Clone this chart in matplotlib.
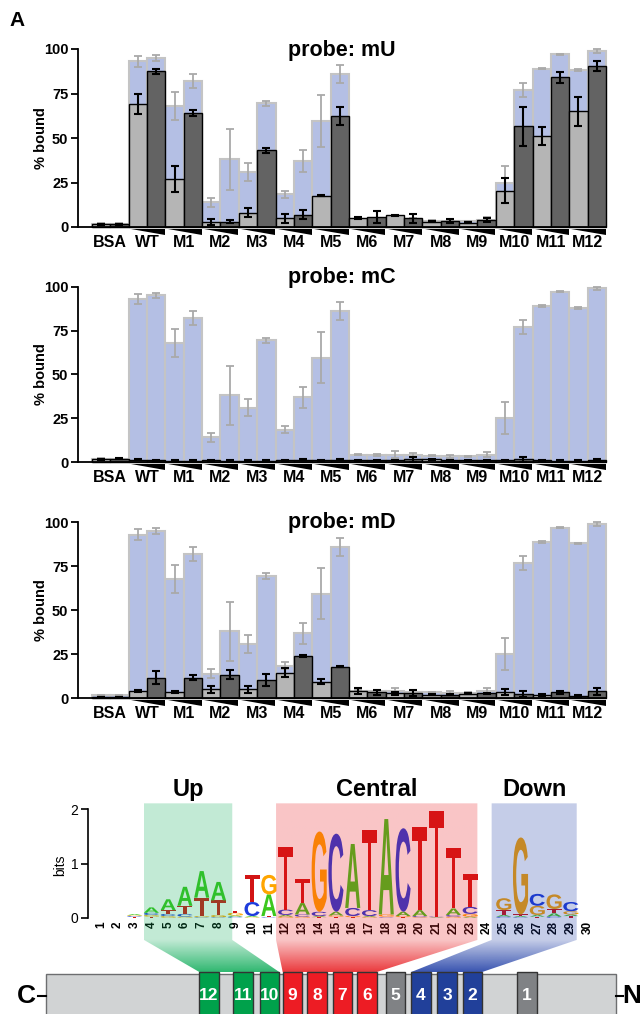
import numpy as np
import matplotlib
matplotlib.use('Agg')
import matplotlib.pyplot as plt
from matplotlib.patches import Polygon, Rectangle, PathPatch
from matplotlib.textpath import TextPath
from matplotlib.font_manager import FontProperties
from matplotlib.transforms import Affine2D, offset_copy

plt.rcParams['font.family'] = ['Liberation Sans', 'DejaVu Sans']

# ---------------- data ----------------
groups = ['BSA', 'WT', 'M1', 'M2', 'M3', 'M4', 'M5', 'M6', 'M7', 'M8', 'M9', 'M10', 'M11', 'M12']

# reference (blue, shown in every panel): low / high protein amount
ref_lo = [1.8, 93, 68, 14, 31, 18.5, 59.5, 4.2, 4.0, 3.5, 3.2, 25, 89, 88]
ref_lo_err = [0.3, 3, 8, 2.5, 5, 2, 14.5, 0.3, 2, 0.3, 0.3, 9, 0.5, 0.5]
ref_hi = [1.8, 95, 82, 38, 69.5, 37, 86, 4.0, 3.8, 3.2, 4.2, 77, 97, 99]
ref_hi_err = [0.3, 1.5, 4, 17, 1.5, 6, 5, 0.8, 1.2, 1, 1.5, 4, 0.3, 1]

# probe mU
mU_lo = [1.5, 69, 27, 2.8, 8, 5, 17.5, 5, 6.5, 3, 2.5, 20.5, 51, 65]
mU_lo_err = [0.3, 5.5, 7.5, 1.5, 2.5, 2.5, 0.3, 0.5, 0.5, 0.3, 0.3, 7, 5, 8]
mU_hi = [1.5, 87.5, 64, 3, 43, 7, 62.5, 5.5, 5, 3.5, 4, 56.5, 84, 90.5]
mU_hi_err = [0.3, 1.5, 1.5, 1, 1.5, 2.5, 5, 3.5, 2.5, 1, 1, 10.8, 3, 2.6]

# probe mC
mC_lo = [1.5, 1.2, 0.8, 1.0, 0.8, 0.9, 0.9, 0.9, 0.9, 1.5, 1.0, 1.0, 1.0, 0.8]
mC_lo_err = [0.3, 0.3, 0.3, 0.3, 0.3, 0.3, 0.3, 0.3, 0.3, 0.3, 0.3, 0.3, 0.3, 0.3]
mC_hi = [1.8, 1.0, 0.8, 0.8, 0.8, 1.2, 1.2, 0.9, 1.5, 0.9, 1.0, 1.5, 0.8, 1.3]
mC_hi_err = [0.3, 0.3, 0.3, 0.3, 0.3, 0.3, 0.3, 0.3, 1.5, 0.3, 0.3, 1.5, 0.3, 0.5]

# probe mD
mD_lo = [0.8, 4.2, 3.6, 5.1, 5.1, 14.6, 9.5, 4.2, 2.8, 2.0, 2.6, 3.6, 1.9, 1.3]
mD_lo_err = [0.2, 0.5, 0.5, 2, 2, 2.5, 1.5, 1.5, 1, 0.3, 0.3, 1.5, 0.8, 0.8]
mD_hi = [0.8, 11.7, 11.7, 13.3, 10.4, 24.2, 18, 3.4, 3.0, 1.9, 2.8, 2.5, 3.4, 4.0]
mD_hi_err = [0.2, 3.8, 1.5, 2.5, 3.5, 0.5, 0.3, 1.5, 1.5, 0.3, 0.3, 1.5, 1.0, 2.0]

yticks = [0, 25, 50, 75, 100]

# sequence logo: per position, (letter, bits) from bottom to top
logo_positions = list(range(1, 31))
logo_stacks = [
    [], [],
    [('T', 0.015), ('C', 0.015), ('G', 0.015), ('A', 0.02)],
    [('T', 0.02), ('G', 0.03), ('C', 0.04), ('A', 0.10)],
    [('G', 0.03), ('C', 0.04), ('T', 0.07), ('A', 0.20)],
    [('G', 0.02), ('C', 0.05), ('T', 0.15), ('A', 0.35)],
    [('C', 0.01), ('G', 0.02), ('T', 0.34), ('A', 0.49)],
    [('C', 0.01), ('G', 0.04), ('T', 0.27), ('A', 0.34)],
    [('C', 0.02), ('A', 0.02), ('G', 0.05), ('T', 0.04)],
    [('G', 0.01), ('A', 0.02), ('C', 0.26), ('T', 0.50)],
    [('C', 0.01), ('T', 0.02), ('A', 0.40), ('G', 0.36)],
    [('G', 0.02), ('A', 0.03), ('C', 0.10), ('T', 1.15)],
    [('G', 0.02), ('C', 0.04), ('A', 0.21), ('T', 0.45)],
    [('T', 0.01), ('A', 0.02), ('C', 0.08), ('G', 1.48)],
    [('T', 0.02), ('G', 0.02), ('A', 0.07), ('C', 1.44)],
    [('T', 0.01), ('G', 0.02), ('C', 0.15), ('A', 1.18)],
    [('G', 0.01), ('A', 0.02), ('C', 0.11), ('T', 1.48)],
    [('C', 0.01), ('T', 0.01), ('G', 0.04), ('A', 1.76)],
    [('T', 0.01), ('G', 0.02), ('A', 0.08), ('C', 1.54)],
    [('G', 0.01), ('C', 0.02), ('A', 0.11), ('T', 1.53)],
    [('A', 0.01), ('C', 0.01), ('T', 1.94)],
    [('G', 0.02), ('C', 0.03), ('A', 0.12), ('T', 1.12)],
    [('A', 0.02), ('G', 0.05), ('C', 0.13), ('T', 0.60)],
    [],
    [('C', 0.02), ('A', 0.03), ('T', 0.09), ('G', 0.22)],
    [('C', 0.01), ('A', 0.02), ('T', 0.03), ('G', 1.42)],
    [('T', 0.02), ('A', 0.03), ('G', 0.17), ('C', 0.22)],
    [('C', 0.02), ('A', 0.06), ('T', 0.08), ('G', 0.27)],
    [('T', 0.03), ('A', 0.03), ('G', 0.06), ('C', 0.17)],
    [],
]
letter_colors = {'A': '#3cc81e', 'C': '#1e3cdc', 'G': '#ffa500', 'T': '#d21414'}

region_names = ['Up', 'Central', 'Down']
region_spans = [(3.56, 8.82), (11.43, 23.43), (24.28, 29.35)]
region_domains = [(12, 10), (9, 6), (4, 2)]
region_colors = ['#0bab57', '#e7171b', '#1737a3']

domain_labels = [12, 11, 10, 9, 8, 7, 6, 5, 4, 3, 2, 1]
domain_colors = ['#00a14b', '#00a14b', '#00a14b', '#ed1c24', '#ed1c24', '#ed1c24', '#ed1c24',
                 '#808285', '#21409a', '#21409a', '#21409a', '#808285']

# ---------------- figure ----------------
W, H = 640, 1014
fig = plt.figure(figsize=(W / 100, H / 100), dpi=100)


def fy(py):
    return 1 - py / H


def interleave(a, b):
    out = []
    for u, v in zip(a, b):
        out += [u, v]
    return np.array(out, dtype=float)


ref_all = interleave(ref_lo, ref_hi)
ref_err_all = interleave(ref_lo_err, ref_hi_err)
xb = np.arange(2 * len(groups))

panels = [
    ('probe: mU', 49, 227, 56, mU_lo, mU_lo_err, mU_hi, mU_hi_err),
    ('probe: mC', 286.7, 462, 283, mC_lo, mC_lo_err, mC_hi, mC_hi_err),
    ('probe: mD', 522.3, 698.3, 528, mD_lo, mD_lo_err, mD_hi, mD_hi_err),
]

for title, ptop, pbot, tbase, lo, lo_e, hi, hi_e in panels:
    ax = fig.add_axes([78 / W, fy(pbot), 528 / W, (pbot - ptop) / H])
    ax.set_xlim(-1.26, 27.5)
    ax.set_ylim(0, 100)
    ax.bar(xb, ref_all, width=1.0, color='#b4bfe4', edgecolor='#c4c4c4', linewidth=1.5,
           zorder=1, clip_on=False)
    eb = ax.errorbar(xb, ref_all, yerr=ref_err_all, fmt='none', ecolor='#a9a9a9',
                     elinewidth=1.3, capsize=3, capthick=1.3, zorder=1.5)
    for a in eb.get_children():
        a.set_clip_on(False)
    vals = interleave(lo, hi)
    errs = interleave(lo_e, hi_e)
    cols = ['#b5b5b5', '#636363'] * len(groups)
    ax.bar(xb, vals, width=1.0, color=cols, edgecolor='black', linewidth=1.0, zorder=2,
           clip_on=False)
    eb2 = ax.errorbar(xb, vals, yerr=errs, fmt='none', ecolor='black', elinewidth=1.5,
                      capsize=3, capthick=1.5, zorder=3)
    for a in eb2.get_children():
        a.set_clip_on(False)
    for s in ['top', 'right']:
        ax.spines[s].set_visible(False)
    for s in ['left', 'bottom']:
        ax.spines[s].set_linewidth(1.3)
        ax.spines[s].set_zorder(4)
    ax.set_xticks([])
    ax.set_yticks(yticks)
    ax.set_yticklabels([str(v) for v in yticks], fontsize=10.5, fontweight='bold')
    ax.tick_params(axis='y', length=5, width=1.3, pad=2)
    ax.set_ylabel('% bound', fontsize=10.5, fontweight='bold')
    ax.yaxis.set_label_coords(-0.056, 0.5)
    lab_tr = offset_copy(ax.transData, fig=fig, y=-20, units='dots')
    for i, g in enumerate(groups):
        ax.text(2 * i + 0.5, 0, g, transform=lab_tr, ha='center', va='baseline',
                fontsize=11.5, fontweight='bold')
        if i > 0:
            left, right = 2 * i - 0.5 + 0.12, 2 * i + 1.5 - 0.02
            ax.add_patch(Polygon([(left, -0.9), (right, -0.9), (right, -4.6)], closed=True,
                                 facecolor='black', edgecolor='none', clip_on=False))
    fig.text(342 / W, fy(tbase), title, ha='center', va='baseline', fontsize=15.5,
             fontweight='bold')

fig.text(17 / W, fy(26), 'A', ha='center', va='baseline', fontsize=15, fontweight='bold')

# ---------------- sequence logo ----------------
lax = fig.add_axes([88.3 / W, fy(917.7), 516.1 / W, 108.4 / H])
lax.set_xlim(0.24, 31)
lax.set_ylim(0, 2)
fp_logo = FontProperties(family='Liberation Sans', weight='bold')


def draw_letter(ax, ch, xc, y0, w, h, color):
    tp = TextPath((0, 0), ch, size=1, prop=fp_logo)
    bb = tp.get_extents()
    tr = (Affine2D().translate(-bb.x0, -bb.y0)
          .scale(w / bb.width, h / bb.height)
          .translate(xc - w / 2, y0))
    ax.add_patch(PathPatch(tr.transform_path(tp), facecolor=color, edgecolor='none',
                           zorder=3, clip_on=False))


for p, stack in zip(logo_positions, logo_stacks):
    y = 0.0
    for ch, h in stack:
        draw_letter(lax, ch, p, y, 0.9, h, letter_colors[ch])
        y += h

for s in ['top', 'right', 'bottom']:
    lax.spines[s].set_visible(False)
lax.spines['left'].set_linewidth(1.2)
lax.set_yticks([0, 1, 2])
lax.set_yticklabels(['0', '1', '2'], fontsize=10)
lax.tick_params(axis='y', length=5, width=1.2, pad=2)
lax.set_xticks(logo_positions)
lax.set_xticklabels([str(p) for p in logo_positions], rotation=90, fontsize=8.5,
                    fontweight='bold')
lax.tick_params(axis='x', length=0, pad=2.5)
lax.set_ylabel('bits', fontsize=10)
lax.yaxis.set_label_coords(-0.041, 0.486)

# ---------------- overlay: regions + domain diagram ----------------
oax = fig.add_axes([0, 0, 1, 1], zorder=5)
oax.set_xlim(0, W)
oax.set_ylim(H, 0)
oax.axis('off')


def logo_px(p, yv):
    d = lax.transData.transform((p, yv))
    return d[0], H - d[1]


dom_w = 19.5
dom_top = 972
dom_left = {12: 199.3, 11: 233.3, 10: 259.7, 9: 282.7, 8: 307.3, 7: 332.7, 6: 357.3,
            5: 385.7, 4: 411.3, 3: 437.3, 2: 462.7, 1: 517.3}

ytop = logo_px(1, 2.11)[1]
ymid = logo_px(1, -0.41)[1]
for name, (p0, p1), (dl, dr), col in zip(region_names, region_spans, region_domains,
                                          region_colors):
    xt0 = logo_px(p0, 0)[0]
    xt1 = logo_px(p1, 0)[0]
    xb0 = dom_left[dl]
    xb1 = dom_left[dr] + dom_w
    verts = [(xt0, ytop), (xt1, ytop), (xt1, ymid), (xb1, dom_top), (xb0, dom_top), (xt0, ymid)]
    clip = Polygon(verts, closed=True, facecolor='none', edgecolor='none')
    oax.add_patch(clip)
    n = 300
    ys = np.linspace(ytop, dom_top, n)
    alpha = np.where(ys < ymid, 0.25, 0.25 + 0.6 * (ys - ymid) / (dom_top - ymid))
    rgb = matplotlib.colors.to_rgb(col)
    img = np.zeros((n, 1, 4))
    img[:, 0, :3] = rgb
    img[:, 0, 3] = alpha
    xmin, xmax = min(xt0, xb0), max(xt1, xb1)
    im = oax.imshow(img, extent=(xmin, xmax, dom_top, ytop), origin='upper', aspect='auto',
                    interpolation='bilinear', zorder=1)
    im.set_clip_path(clip)
    oax.text((xt0 + xt1) / 2, ytop - 14, name, ha='center', va='center', fontsize=17,
             fontweight='bold')

oax.set_xlim(0, W)
oax.set_ylim(H, 0)

oax.add_patch(Rectangle((45.7, 974.3), 570, 60, facecolor='#d1d3d4', edgecolor='#6d6e70',
                        linewidth=1, zorder=2))
for lab, col in zip(domain_labels, domain_colors):
    x0 = dom_left[lab]
    oax.add_patch(Rectangle((x0, dom_top), dom_w, 60, facecolor=col, edgecolor='#333333',
                            linewidth=1, zorder=3))
    oax.text(x0 + dom_w / 2, 996, str(lab), ha='center', va='center', color='white',
             fontsize=12.5, fontweight='bold', zorder=4)
oax.plot([38, 45.7], [996, 996], color='black', lw=1.5, zorder=2)
oax.plot([615.7, 622.5], [996, 996], color='black', lw=1.5, zorder=2)
oax.text(26.5, 996, 'C', ha='center', va='center', fontsize=19, fontweight='bold')
oax.text(631.5, 996, 'N', ha='center', va='center', fontsize=19, fontweight='bold')

fig.savefig('out.png', dpi=100)
